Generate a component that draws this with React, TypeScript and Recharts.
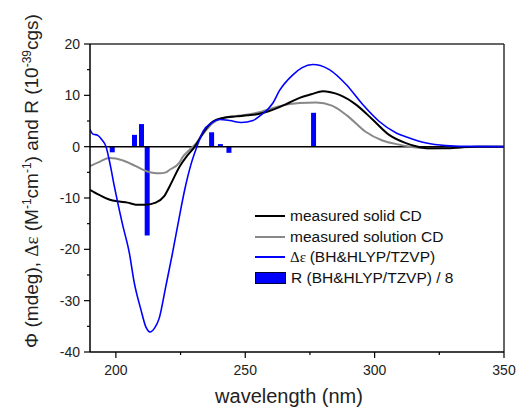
import { ComposedChart, Line, Bar, XAxis, YAxis, ReferenceLine } from "recharts";

// wavelength (nm) -> value
const solidCD = [
  [190, -8.4], [193.6, -9.4], [197.4, -10.3], [201.3, -10.7], [204.5, -10.9],
  [207.7, -11.3], [211.6, -11.3], [215.4, -10.9], [218.6, -9.7], [220.8, -7.7],
  [224.7, -3.8], [227.5, -1.8], [230.5, 0], [233.7, 2.7], [237.5, 4.9],
  [241.4, 5.6], [246.5, 5.9], [251, 6.1], [255.5, 6.4], [259, 6.9],
  [263.2, 7.7], [267.1, 8.6], [271, 9.5], [275.5, 10.2], [280, 10.8],
  [283, 10.6], [286.4, 10.1], [292.8, 8.2], [299.2, 5.3], [305.6, 2.3],
  [312.1, 0.7], [316, 0.1], [321, -0.3], [327.5, -0.3], [334, -0.1],
  [340, 0], [350, 0],
].map(([wl, v]) => ({ wl, v }));

const solutionCD = [
  [190, -3.8], [193.9, -2.9], [197.4, -2.2], [200, -2.3], [202.8, -2.7],
  [207.7, -3.8], [211.9, -4.8], [214.2, -5.1], [217, -5.2], [219.3, -5.0],
  [220.8, -4.5], [224.4, -3.2], [226, -1.9], [228.5, -0.6], [231.1, 0.7],
  [235, 3.3], [237.5, 4.6], [240.1, 5.4], [246.5, 6.0], [250.4, 6.2],
  [255.5, 6.7], [263.2, 7.9], [271, 8.5], [277.4, 8.6], [283.5, 8.0],
  [289.5, 6.0], [296.5, 2.9], [303, 1.2], [309.5, 0.4], [315, -0.1],
  [321, -0.3], [330, -0.2], [340, 0], [350, 0],
].map(([wl, v]) => ({ wl, v }));

const calcDelta = [
  [190, 3.4], [191, 2.5], [193, 2.2], [194.5, 1.4], [196.2, 0],
  [197.8, -3.5], [199.4, -7.7], [202.5, -15], [205.2, -20.7], [207.1, -26.5],
  [209.7, -31.8], [211.5, -35], [213.2, -36.1], [215, -35.3], [216.7, -33.5],
  [219.3, -27.2], [221.9, -20.7], [224.4, -14], [226.6, -8.4], [229, -3.5],
  [231.1, -0.3], [233.7, 3.0], [236.9, 4.6], [240.1, 5.3], [244, 5.1],
  [248.5, 4.7], [253, 5.1], [256.2, 6.2], [260.7, 8.5], [263.2, 10.9],
  [268.4, 14.0], [272, 15.4], [276.1, 16.0], [279, 15.8], [282.5, 15.0],
  [289, 12.1], [295.4, 8.2], [301.8, 4.9], [308.2, 2.7], [313.4, 1.7],
  [320, 0.7], [327.5, 0.2], [335, 0.05], [350, 0],
].map(([wl, v]) => ({ wl, v }));

// rotational strengths R / 8
const rBars = [
  { wl: 198.6, r: -1.1 },
  { wl: 207.2, r: 2.3 },
  { wl: 209.9, r: 4.4 },
  { wl: 212.1, r: -17.3 },
  { wl: 237.0, r: 2.8 },
  { wl: 240.4, r: 0.5 },
  { wl: 243.7, r: -1.2 },
  { wl: 276.4, r: 6.6 },
];

const xTicks = [190, 200, 225, 250, 275, 300, 325, 350];
const yTicks = [-40, -35, -30, -25, -20, -15, -10, -5, 0, 5, 10, 15, 20];

const font = "Arial, 'Liberation Sans', sans-serif";

const YTick = ({ x, y, payload }: any) => {
  const major = payload.value % 10 === 0;
  return (
    <g>
      <line x1={x - (major ? 6 : 3)} x2={x} y1={y} y2={y} stroke="#000" strokeWidth={1.2} />
      {major && (
        <text x={x - 10} y={y + 5} textAnchor="end" fontSize={14} fontFamily={font} fill="#222">
          {payload.value}
        </text>
      )}
    </g>
  );
};

const XTick = ({ x, y, payload }: any) => {
  const v = payload.value;
  if (v === 190) return <g />;
  const major = v % 50 === 0;
  return (
    <g>
      <line x1={x} x2={x} y1={y} y2={y + (major ? 6 : 3)} stroke="#000" strokeWidth={1.2} />
      {major && (
        <text x={x} y={y + 23} textAnchor="middle" fontSize={14} fontFamily={font} fill="#222">
          {v}
        </text>
      )}
    </g>
  );
};

// fixed-width stick for each rotational strength, centred on its wavelength
const Stick = (props: any) => {
  const { x, y, width, height } = props;
  const cx = x + width / 2;
  const top = Math.min(y, y + height);
  const h = Math.abs(height);
  return <rect x={cx - 2.5} y={top} width={5} height={h} fill="#0000ff" />;
};

const YLabel = () => (
  <text transform="rotate(-90)" x={-181} y={38} textAnchor="middle" fontSize={19} fontFamily={font} fill="#222">
    Φ (mdeg), <tspan fontFamily="'Liberation Serif', serif">Δε</tspan> (M
    <tspan dy={-7} fontSize={12}>-1</tspan>
    <tspan dy={7}>cm</tspan>
    <tspan dy={-7} fontSize={12}>-1</tspan>
    <tspan dy={7}>) and R (10</tspan>
    <tspan dy={-7} fontSize={12}>-39</tspan>
    <tspan dy={7}>cgs)</tspan>
  </text>
);

const XLabel = () => (
  <text x={289} y={403} textAnchor="middle" fontSize={20} fontFamily={font} fill="#222">
    wavelength (nm)
  </text>
);

const legendItems = [
  { label: "measured solid CD", color: "#000", kind: "line" },
  { label: "measured solution CD", color: "#888", kind: "line" },
  { label: "(BH&HLYP/TZVP)", color: "#0000ff", kind: "line", prefix: "Δε " },
  { label: "R (BH&HLYP/TZVP) / 8", color: "#0000ff", kind: "bar" },
];

export default function App() {
  return (
    <div style={{ position: "absolute", left: 0, top: 0, width: 518, height: 409 }}>
      <ComposedChart
        width={518}
        height={409}
        data={rBars}
        margin={{ top: 44, right: 14, bottom: 0, left: 0 }}
      >
        <XAxis
          type="number"
          dataKey="wl"
          domain={[190, 350]}
          ticks={xTicks}
          interval={0}
          height={57}
          tickSize={0}
          tickMargin={0}
          tick={<XTick />}
          axisLine={{ stroke: "#000", strokeWidth: 1.5 }}
          label={{ content: () => <XLabel /> }}
          allowDataOverflow
        />
        <YAxis
          type="number"
          domain={[-40, 20]}
          ticks={yTicks}
          interval={0}
          width={90}
          tickSize={0}
          tickMargin={0}
          tick={<YTick />}
          axisLine={{ stroke: "#000", strokeWidth: 1.5 }}
          label={{ content: () => <YLabel /> }}
          allowDataOverflow
        />
        <ReferenceLine y={20} stroke="#333" strokeWidth={1.5} />
        <ReferenceLine x={350} stroke="#333" strokeWidth={1.5} />
        <Bar dataKey="r" fill="#0000ff" shape={<Stick />} isAnimationActive={false} />
        <ReferenceLine y={0} stroke="#000" strokeWidth={1.5} />
        <Line data={solutionCD} dataKey="v" type="monotone" stroke="#888" strokeWidth={2} dot={false} isAnimationActive={false} />
        <Line data={solidCD} dataKey="v" type="monotone" stroke="#000" strokeWidth={2} dot={false} isAnimationActive={false} />
        <Line data={calcDelta} dataKey="v" type="monotone" stroke="#0000ff" strokeWidth={1.6} dot={false} isAnimationActive={false} />
      </ComposedChart>
      <div style={{ position: "absolute", left: 255, top: 206, fontFamily: font, fontSize: 15.5, color: "#111", lineHeight: "20.5px" }}>
        {legendItems.map((it) => (
          <div key={it.label} style={{ display: "flex", alignItems: "center", height: 20.5 }}>
            {it.kind === "line" ? (
              <span style={{ display: "inline-block", width: 30, height: 2, background: it.color, marginRight: 5 }} />
            ) : (
              <span style={{ display: "inline-block", width: 29, height: 10, background: it.color, border: "0.5px solid #003", marginRight: 5 }} />
            )}
            <span style={{ whiteSpace: "nowrap" }}>
              {it.prefix && <span style={{ fontFamily: "'Liberation Serif', serif", fontSize: 15 }}>{it.prefix}</span>}
              {it.label}
            </span>
          </div>
        ))}
      </div>
    </div>
  );
}
